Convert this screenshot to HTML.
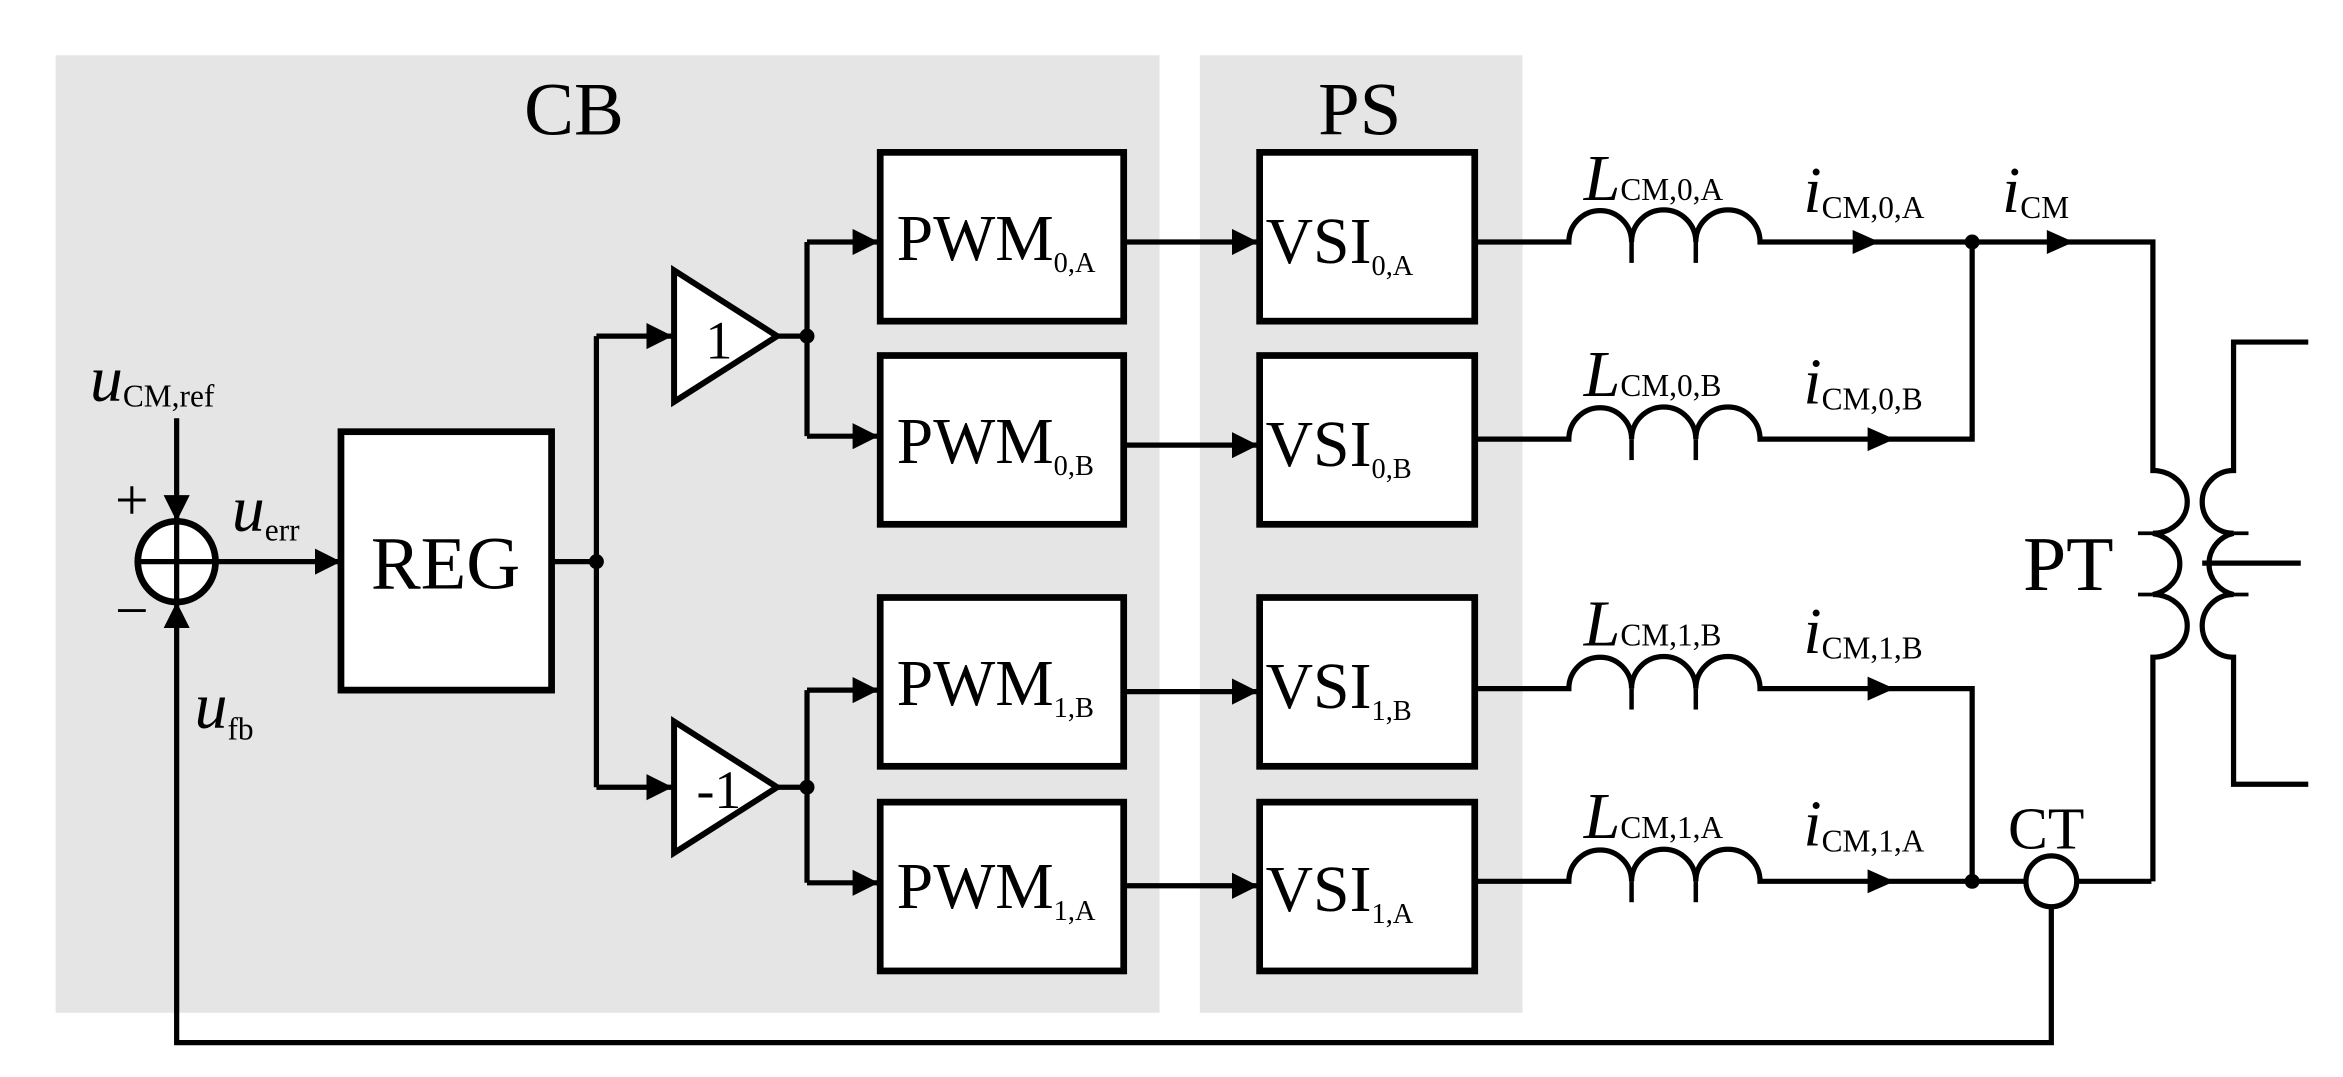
<!DOCTYPE html>
<html><head><meta charset="utf-8"><style>
html,body{margin:0;padding:0;background:#fff;}
svg{display:block;}
text{font-family:"Liberation Serif",serif;fill:#000;}
</style></head><body>
<svg width="2343" height="1077" viewBox="0 0 1568 721" xmlns="http://www.w3.org/2000/svg">
<defs>
<marker id="ar" viewBox="0 0 10 10" refX="10" refY="5" markerWidth="5" markerHeight="5" orient="auto" markerUnits="strokeWidth"><path d="M0,0 L10,5 L0,10 z" fill="#000"/></marker>
</defs>
<rect x="37" y="37" width="739" height="641" fill="#e5e5e5"/>
<rect x="803" y="37" width="216" height="641" fill="#e5e5e5"/>
<text x="384" y="90" font-size="50" text-anchor="middle">CB</text>
<text x="910" y="90" font-size="50" text-anchor="middle">PS</text>
<g stroke="#000" stroke-width="3.5" fill="none">
<line x1="118" y1="280" x2="118" y2="349" marker-end="url(#ar)"/>
<ellipse cx="118" cy="376" rx="26" ry="27" fill="#fff" stroke-width="4.5"/>
<line x1="92" y1="376" x2="144" y2="376"/>
<line x1="118" y1="349" x2="118" y2="403"/>
<polyline points="1373,607 1373,698 118,698 118,403" marker-end="url(#ar)"/>
<line x1="145" y1="376" x2="228" y2="376" marker-end="url(#ar)"/>
<rect x="228" y="289" width="141" height="173" fill="#fff" stroke-width="4.5"/>
<line x1="369" y1="376" x2="399" y2="376"/>
<line x1="399" y1="225" x2="399" y2="527"/>
<line x1="399" y1="225" x2="450" y2="225" marker-end="url(#ar)"/>
<line x1="399" y1="527" x2="450" y2="527" marker-end="url(#ar)"/>
<polygon points="451,181 520,225 451,269" fill="#fff" stroke-width="4"/>
<polygon points="451,483 520,527 451,571" fill="#fff" stroke-width="4"/>
<line x1="520" y1="225" x2="540" y2="225"/>
<line x1="520" y1="527" x2="540" y2="527"/>
<line x1="540" y1="162" x2="540" y2="292"/>
<line x1="540" y1="462" x2="540" y2="591"/>
<line x1="540" y1="162" x2="588" y2="162" marker-end="url(#ar)"/>
<line x1="540" y1="292" x2="588" y2="292" marker-end="url(#ar)"/>
<line x1="540" y1="462" x2="588" y2="462" marker-end="url(#ar)"/>
<line x1="540" y1="591" x2="588" y2="591" marker-end="url(#ar)"/>
<rect x="589" y="102" width="163" height="113" fill="#fff" stroke-width="4.5"/>
<rect x="589" y="238" width="163" height="113" fill="#fff" stroke-width="4.5"/>
<rect x="589" y="400" width="163" height="113" fill="#fff" stroke-width="4.5"/>
<rect x="589" y="537" width="163" height="113" fill="#fff" stroke-width="4.5"/>
<line x1="752" y1="162" x2="842" y2="162" marker-end="url(#ar)"/>
<line x1="752" y1="298" x2="842" y2="298" marker-end="url(#ar)"/>
<line x1="752" y1="463" x2="842" y2="463" marker-end="url(#ar)"/>
<line x1="752" y1="593" x2="842" y2="593" marker-end="url(#ar)"/>
<rect x="843" y="102" width="144" height="113" fill="#fff" stroke-width="4.5"/>
<rect x="843" y="238" width="144" height="113" fill="#fff" stroke-width="4.5"/>
<rect x="843" y="400" width="144" height="113" fill="#fff" stroke-width="4.5"/>
<rect x="843" y="537" width="144" height="113" fill="#fff" stroke-width="4.5"/>
<path d="M987 162 H1050 a21 21 0 0 1 42 0 a21 21 0 0 1 43 0 a21 21 0 0 1 43 0 H1320"/>
<path d="M987 294 H1050 a21 21 0 0 1 42 0 a21 21 0 0 1 43 0 a21 21 0 0 1 43 0 H1320 V162"/>
<path d="M987 461 H1050 a21 21 0 0 1 42 0 a21 21 0 0 1 43 0 a21 21 0 0 1 43 0 H1320 V590"/>
<path d="M987 590 H1050 a21 21 0 0 1 42 0 a21 21 0 0 1 43 0 a21 21 0 0 1 43 0 H1356"/>
<g stroke-width="3"><line x1="1092" y1="162" x2="1092" y2="176"/><line x1="1135" y1="162" x2="1135" y2="176"/>
<line x1="1092" y1="294" x2="1092" y2="308"/><line x1="1135" y1="294" x2="1135" y2="308"/>
<line x1="1092" y1="461" x2="1092" y2="475"/><line x1="1135" y1="461" x2="1135" y2="475"/>
<line x1="1092" y1="590" x2="1092" y2="604"/><line x1="1135" y1="590" x2="1135" y2="604"/></g>
<line x1="1390" y1="590" x2="1440" y2="590"/>
<path d="M1320 162 H1441 V315 a23 21 0 0 1 0 42 a23 21 0 0 1 0 41 a23 21 0 0 1 0 42 V590"/>
<path d="M1545 229 H1495 V315 a21 21 0 0 0 0 42 a21 21 0 0 0 0 41 a21 21 0 0 0 0 42 V525 H1545"/>
<g stroke-width="2.5"><line x1="1441" y1="357" x2="1431" y2="357"/><line x1="1441" y1="398" x2="1431" y2="398"/>
<line x1="1495" y1="357" x2="1505" y2="357"/><line x1="1495" y1="398" x2="1505" y2="398"/></g>
<line x1="1474" y1="377" x2="1540" y2="377"/>
<circle cx="1373" cy="590" r="17" fill="none"/>
</g>
<g fill="#000">
<circle cx="399" cy="376" r="5"/><circle cx="540" cy="225" r="5"/><circle cx="540" cy="527" r="5"/>
<circle cx="1320" cy="162" r="5"/><circle cx="1320" cy="590" r="5"/>
<path d="M1240 154 L1258 162 L1240 170z"/><path d="M1250 286 L1268 294 L1250 302z"/>
<path d="M1250 453 L1268 461 L1250 469z"/><path d="M1250 582 L1268 590 L1250 598z"/>
<path d="M1370 154 L1388 162 L1370 170z"/>
</g>
<text x="298" y="394" font-size="50" text-anchor="middle">REG</text>
<text x="481" y="240" font-size="36" text-anchor="middle">1</text>
<text x="481" y="541" font-size="36" text-anchor="middle">-1</text>
<text x="88" y="348" font-size="40" text-anchor="middle">+</text>
<text x="88" y="422" font-size="40" text-anchor="middle">−</text>
<text x="60" y="268" font-size="44" font-style="italic">u<tspan font-size="21" font-style="normal" dy="4">CM,ref</tspan></text>
<text x="155" y="355" font-size="44" font-style="italic">u<tspan font-size="21" font-style="normal" dy="7">err</tspan></text>
<text x="130" y="487" font-size="44" font-style="italic">u<tspan font-size="21" font-style="normal" dy="8">fb</tspan></text>
<g font-size="44">
<text x="600" y="174">PWM<tspan font-size="19" dy="8">0,A</tspan></text>
<text x="600" y="310">PWM<tspan font-size="19" dy="8">0,B</tspan></text>
<text x="600" y="472">PWM<tspan font-size="19" dy="8">1,B</tspan></text>
<text x="600" y="608">PWM<tspan font-size="19" dy="8">1,A</tspan></text>
<text x="847" y="176">VSI<tspan font-size="19" dy="8">0,A</tspan></text>
<text x="847" y="312">VSI<tspan font-size="19" dy="8">0,B</tspan></text>
<text x="847" y="474">VSI<tspan font-size="19" dy="8">1,B</tspan></text>
<text x="847" y="610">VSI<tspan font-size="19" dy="8">1,A</tspan></text>
</g>
<g font-size="44" font-style="italic">
<text x="1060" y="134">L<tspan font-size="21" font-style="normal">CM,0,A</tspan></text>
<text x="1060" y="265">L<tspan font-size="21" font-style="normal">CM,0,B</tspan></text>
<text x="1060" y="432">L<tspan font-size="21" font-style="normal">CM,1,B</tspan></text>
<text x="1060" y="561">L<tspan font-size="21" font-style="normal">CM,1,A</tspan></text>
<text x="1207" y="142">i<tspan font-size="21" font-style="normal" dy="4">CM,0,A</tspan></text>
<text x="1207" y="270">i<tspan font-size="21" font-style="normal" dy="4">CM,0,B</tspan></text>
<text x="1207" y="437">i<tspan font-size="21" font-style="normal" dy="4">CM,1,B</tspan></text>
<text x="1207" y="566">i<tspan font-size="21" font-style="normal" dy="4">CM,1,A</tspan></text>
<text x="1340" y="142">i<tspan font-size="21" font-style="normal" dy="4">CM</tspan></text>
</g>
<text x="1354" y="395" font-size="52">PT</text>
<text x="1344" y="568" font-size="40">CT</text>
</svg>
</body></html>
